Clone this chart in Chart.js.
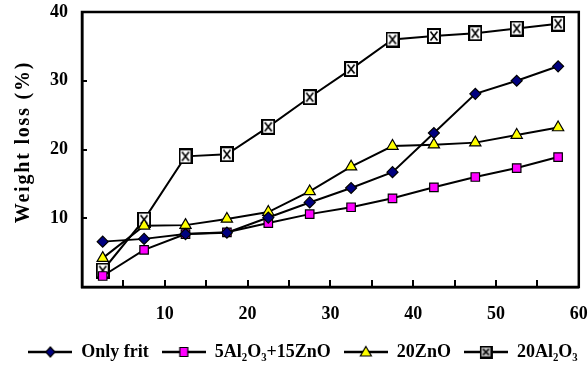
<!DOCTYPE html>
<html>
<head>
<meta charset="utf-8">
<script src="https://cdn.jsdelivr.net/npm/chart.js@4/dist/chart.umd.min.js"></script>
<style>
  html, body { margin: 0; padding: 0; background: #fff; }
  #wrap { width: 588px; height: 366px; }
</style>
</head>
<body>
<div id="wrap"><canvas id="c" width="588" height="366"></canvas></div>
<script>
// ---- data ----
const xValues = [2.5, 7.5, 12.5, 17.5, 22.5, 27.5, 32.5, 37.5, 42.5, 47.5, 52.5, 57.5];
const onlyFrit = [6.6, 7.0, 7.7, 7.9, 10.1, 12.3, 14.4, 16.7, 22.4, 28.1, 30.0, 32.1];
const al5zn15  = [1.6, 5.4, 7.7, 7.95, 9.3, 10.6, 11.6, 12.9, 14.5, 16.0, 17.3, 18.9];
const zn20     = [4.2, 8.9, 9.0, 9.9, 10.9, 13.9, 17.5, 20.5, 20.7, 21.0, 22.1, 23.2];
const al20     = [2.4, 9.8, 19.0, 19.3, 23.3, 27.6, 31.7, 36.0, 36.5, 36.9, 37.6, 38.3];
const seriesNames = ['Only frit', '5Al\u2082O\u2083+15ZnO', '20ZnO', '20Al\u2082O\u2083'];
const yTitle = 'Weight loss (%)';
const xTickLabels = [10, 20, 30, 40, 50, 60];
const xTickMarks = [5, 10, 15, 20, 25, 30, 35, 40, 45, 50, 55];
const yTickLabels = [10, 20, 30, 40];
const yTickMarks = [10, 20, 30];

const FONT = "'Liberation Serif', 'Times New Roman', serif";

function pts(ys) { return xValues.map((x, i) => ({ x: x, y: ys[i] })); }

// X-in-square marker image
function xSquare(w, h, fill) {
  const c = document.createElement('canvas');
  c.width = w; c.height = h;
  const g = c.getContext('2d');
  g.fillStyle = fill; g.fillRect(1, 1, w - 2, h - 2);
  g.strokeStyle = '#000'; g.lineWidth = 2;
  g.strokeRect(1, 1, w - 2, h - 2);
  g.lineWidth = 1.6;
  g.beginPath();
  g.moveTo(3.5, 3.5); g.lineTo(w - 3.5, h - 3.5);
  g.moveTo(w - 3.5, 3.5); g.lineTo(3.5, h - 3.5);
  g.stroke();
  return c;
}

// legend symbol: line with marker
function legendSym(kind) {
  const c = document.createElement('canvas');
  c.width = 44; c.height = 16;
  const g = c.getContext('2d');
  g.strokeStyle = '#000'; g.lineWidth = 2.5;
  g.beginPath(); g.moveTo(0, 8); g.lineTo(44, 8); g.stroke();
  g.lineWidth = 1.2;
  const cx = 22, cy = 8;
  g.beginPath();
  if (kind === 'diamond') {
    g.moveTo(cx, cy - 5); g.lineTo(cx + 4.5, cy); g.lineTo(cx, cy + 5); g.lineTo(cx - 4.5, cy); g.closePath();
    g.fillStyle = '#000080'; g.fill(); g.stroke();
  } else if (kind === 'square') {
    g.rect(cx - 4, cy - 4.5, 8, 9);
    g.fillStyle = '#ff00ff'; g.fill(); g.stroke();
  } else if (kind === 'triangle') {
    g.moveTo(cx, cy - 5.5); g.lineTo(cx + 5.5, cy + 4); g.lineTo(cx - 5.5, cy + 4); g.closePath();
    g.fillStyle = '#ffff00'; g.fill(); g.stroke();
  } else {
    g.drawImage(xSquare(13, 13, '#c0c0c0'), cx - 6.5, cy - 6.5);
  }
  return c;
}

const legendSyms = [legendSym('diamond'), legendSym('square'), legendSym('triangle'), legendSym('xsq')];
const xsqPoint = xSquare(14, 16, '#ffffff');

const frame = {
  id: 'frame',
  afterDatasetsDraw(chart) {
    const a = chart.chartArea, g = chart.ctx;
    const xs = chart.scales.x, ys = chart.scales.y;
    g.save();
    g.strokeStyle = '#000'; g.lineWidth = 2.5;
    g.strokeRect(a.left, a.top, a.right - a.left, a.bottom - a.top);
    g.lineWidth = 2;
    g.beginPath();
    xTickMarks.forEach(v => {
      const px = Math.round(xs.getPixelForValue(v));
      g.moveTo(px, a.bottom); g.lineTo(px, a.bottom - 7);
    });
    yTickMarks.forEach(v => {
      const py = Math.round(ys.getPixelForValue(v));
      g.moveTo(a.left, py); g.lineTo(a.left + 5, py);
    });
    g.stroke();
    g.restore();
  }
};

// shift the legend block slightly right, as in the reference
const legendShift = {
  id: 'legendShift',
  afterLayout(chart) {
    if (chart.legend) { chart.legend.left += 9; chart.legend.right += 9; }
  }
};

const yTitlePlugin = {
  id: 'ytitle',
  afterDraw(chart) {
    const g = chart.ctx;
    g.save();
    g.translate(24, 142);
    g.rotate(-Math.PI / 2);
    g.font = "bold 20px " + FONT;
    try { g.letterSpacing = '1.8px'; } catch (e) {}
    g.fillStyle = '#000';
    g.textAlign = 'center';
    g.textBaseline = 'middle';
    g.fillText(yTitle, 0, 0);
    g.restore();
  }
};

const common = { borderColor: '#000', borderWidth: 2, pointBorderColor: '#000', pointBorderWidth: 1.2, tension: 0, showLine: true };

new Chart(document.getElementById('c'), {
  type: 'scatter',
  data: {
    datasets: [
      Object.assign({}, common, { label: seriesNames[0], data: pts(onlyFrit), pointStyle: 'rectRot', pointRadius: 5.5, pointBackgroundColor: '#000080' }),
      Object.assign({}, common, { label: seriesNames[1], data: pts(al5zn15), pointStyle: 'rect', pointRadius: 6, pointBackgroundColor: '#ff00ff' }),
      Object.assign({}, common, { label: seriesNames[2], data: pts(zn20), pointStyle: 'triangle', pointRadius: 6.5, pointBackgroundColor: '#ffff00' }),
      Object.assign({}, common, { label: seriesNames[3], data: pts(al20), pointStyle: xsqPoint, pointRadius: 8, pointBackgroundColor: '#ffffff' })
    ]
  },
  options: {
    responsive: false,
    animation: false,
    devicePixelRatio: 1,
    layout: { padding: { left: 2, right: 2, top: 12, bottom: -5 } },
    plugins: {
      tooltip: { enabled: false },
      legend: {
        position: 'bottom',
        labels: {
          usePointStyle: true,
          pointStyleWidth: 44,
          padding: 13,
          color: '#000',
          font: { family: FONT, size: 18, weight: 'bold' },
          generateLabels(chart) {
            return chart.data.datasets.map((d, i) => ({
              text: d.label, pointStyle: legendSyms[i], fillStyle: '#000', strokeStyle: '#000',
              lineWidth: 0, hidden: false, datasetIndex: i, fontColor: '#000'
            }));
          }
        }
      }
    },
    scales: {
      x: {
        type: 'linear', min: 0, max: 60,
        afterFit(s) { s.height = 43; },
        border: { color: '#000', width: 2.5 },
        grid: { drawOnChartArea: false, drawTicks: true, tickLength: 17, tickColor: 'rgba(0,0,0,0)' },
        ticks: {
          stepSize: 5, padding: 0, color: '#000', maxRotation: 0, autoSkip: false,
          font: { family: FONT, size: 18, weight: 'bold' },
          callback(v) { return xTickLabels.includes(v) ? String(v) : ''; }
        }
      },
      y: {
        type: 'linear', min: 0, max: 40,
        afterFit(s) { s.width = 80; },
        border: { color: '#000', width: 2.5 },
        grid: { drawOnChartArea: false, drawTicks: true, tickLength: 14, tickColor: 'rgba(0,0,0,0)' },
        ticks: {
          stepSize: 10, padding: 0, color: '#000',
          font: { family: FONT, size: 18, weight: 'bold' },
          callback(v) { return yTickLabels.includes(v) ? String(v) : ''; }
        }
      }
    }
  },
  plugins: [frame, legendShift, yTitlePlugin]
});
</script>
</body>
</html>
